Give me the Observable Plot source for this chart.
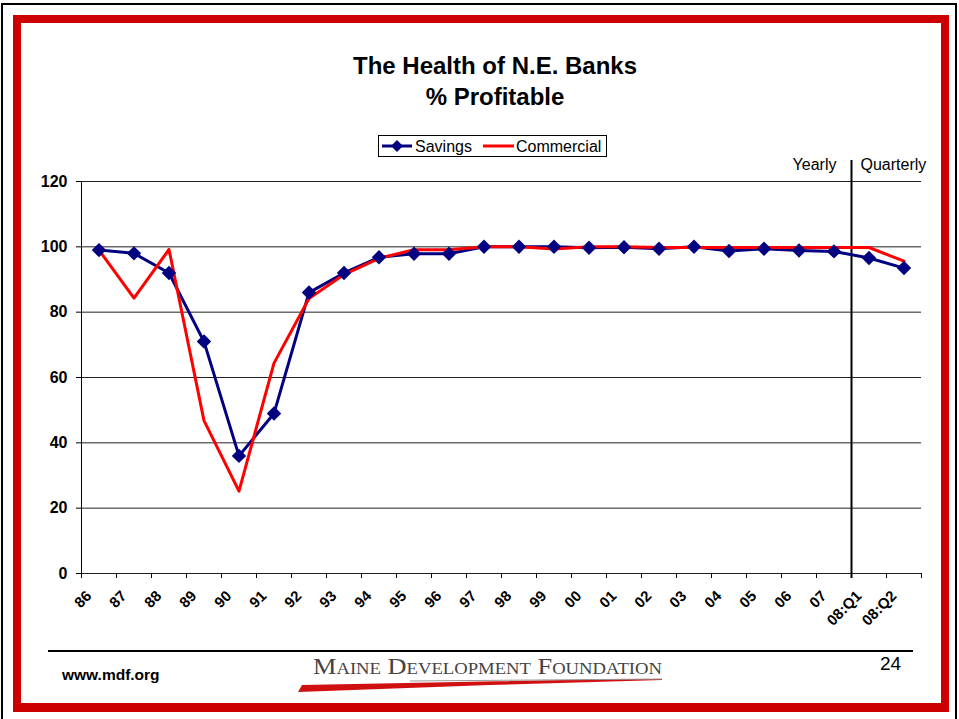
<!DOCTYPE html>
<html>
<head>
<meta charset="utf-8">
<script src="https://cdn.jsdelivr.net/npm/d3@7"></script>
<script src="https://cdn.jsdelivr.net/npm/@observablehq/plot@0.6"></script>
<style>
  html, body { margin: 0; padding: 0; background: #fff; }
  #wrap { position: relative; width: 959px; height: 719px; overflow: hidden; font-family: Arial, "Liberation Sans", sans-serif; }
  #chart { position: absolute; left: 0; top: 0; }
  .abs { position: absolute; }
</style>
</head>
<body>
<div id="wrap">
  <div id="chart"></div>
  <div class="abs" style="left:1px;top:3px;width:952px;height:730px;border:2px solid #000;"></div>
  <div class="abs" style="left:13px;top:15px;width:920px;height:680px;border:8px solid #CC0000;border-bottom-width:9px;"></div>
  <div class="abs" id="title" style="left:0;top:50px;width:990px;text-align:center;font-weight:bold;font-size:24px;line-height:31px;color:#000;">The Health of N.E. Banks<br>% Profitable</div>
  <div class="abs" id="legend" style="left:378px;top:135px;width:227px;height:20px;border:1px solid #000;background:#fff;"></div>
  <div class="abs" style="left:48px;top:650px;width:865px;height:2px;background:#000;"></div>
  <div class="abs" style="left:62px;top:666px;font-weight:bold;font-size:15.5px;">www.mdf.org</div>
  <div class="abs" style="left:880px;top:653px;font-size:19px;">24</div>
  <svg class="abs" style="left:290px;top:652px;" width="390" height="45" id="logo"></svg>
</div>
<script>
// ---- data ----
const categories = ["86","87","88","89","90","91","92","93","94","95","96","97","98","99","00","01","02","03","04","05","06","07","08:Q1","08:Q2"];
const savings    = [99, 98, 92, 71, 36, 49, 86, 92, 96.8, 97.9, 97.9, 100, 100, 100, 99.7, 99.9, 99.4, 100, 98.7, 99.4, 98.9, 98.6, 96.6, 93.5];
const commercial = [99, 84.3, 99.2, 46.8, 25.2, 64.4, 84.2, 91.5, 96.5, 99.1, 99.1, 100, 100, 99.3, 100, 100, 99.8, 99.8, 99.8, 99.8, 99.8, 99.8, 99.8, 95.6];
const yTicks = [0, 20, 40, 60, 80, 100, 120];
const seriesNames = ["Savings", "Commercial"];
const seriesColors = ["#000080", "#FF0000"];
const periodLabels = ["Yearly", "Quarterly"];

const rows = categories.map((c, i) => ({cat: c, i, pos: i + 0.5, savings: savings[i], commercial: commercial[i]}));
const boundaries = d3.range(categories.length + 1);
const splitAt = categories.indexOf("08:Q1");

const font = 'Arial, "Liberation Sans", sans-serif';
const tickExt = -1.53;   // tick length below the axis, in y units
const sepTop = 126.4;    // separator rises above the top gridline

const plot = Plot.plot({
  width: 959,
  height: 719,
  marginLeft: 81,
  marginRight: 38,
  marginTop: 181,
  marginBottom: 146,
  style: {fontFamily: font, fontSize: "16px", color: "#000", background: "transparent", overflow: "visible"},
  x: {type: "linear", domain: [0, categories.length], axis: null},
  y: {type: "linear", domain: [0, 120], axis: null},
  marks: [
    Plot.ruleY(yTicks, {stroke: "#222", strokeWidth: 1}),
    Plot.ruleX([0], {y1: tickExt, y2: 120, stroke: "#000", strokeWidth: 1}),
    Plot.axisY(yTicks, {tickSize: 5, tickPadding: 9, fontWeight: "bold", fontSize: 16, label: null, stroke: "#000"}),
    Plot.axisX(boundaries, {tickSize: 5, tickFormat: () => "", label: null, stroke: "#000"}),
    Plot.ruleX([splitAt], {y1: tickExt, y2: sepTop, stroke: "#000", strokeWidth: 2}),
    Plot.text(rows, {x: "pos", y: 0, text: "cat", rotate: -45, textAnchor: "end", dx: -10, dy: 20, fontWeight: "bold", fontSize: 15}),
    Plot.line(rows, {x: "pos", y: "savings", stroke: seriesColors[0], strokeWidth: 3}),
    Plot.line(rows, {x: "pos", y: "commercial", stroke: seriesColors[1], strokeWidth: 3}),
    Plot.dot(rows, {x: "pos", y: "savings", symbol: "diamond2", r: 6.5, fill: seriesColors[0], stroke: "none"}),
    Plot.text([periodLabels[0]], {x: splitAt, y: 120, text: d => d, textAnchor: "end", dx: -15, dy: -17, fontSize: 16, fontWeight: "normal"}),
    Plot.text([periodLabels[1]], {x: splitAt, y: 120, text: d => d, textAnchor: "start", dx: 9, dy: -17, fontSize: 16, fontWeight: "normal"})
  ]
});
document.getElementById("chart").appendChild(plot);

// ---- legend ----
const leg = d3.select("#legend").append("svg").attr("width", 227).attr("height", 20)
  .style("font-family", font).style("font-size", "16px");
leg.append("line").attr("x1", 3).attr("x2", 33).attr("y1", 10).attr("y2", 10).attr("stroke", seriesColors[0]).attr("stroke-width", 3);
leg.append("path").attr("d", d3.symbol(d3.symbolDiamond2, 90)()).attr("transform", "translate(18,10)").attr("fill", seriesColors[0]);
leg.append("text").attr("x", 36).attr("y", 16).text(seriesNames[0]);
leg.append("line").attr("x1", 104).attr("x2", 135).attr("y1", 10).attr("y2", 10).attr("stroke", seriesColors[1]).attr("stroke-width", 3);
leg.append("text").attr("x", 137).attr("y", 16).text(seriesNames[1]);

// ---- logo ----
const logo = d3.select("#logo");
logo.append("polygon").attr("points", "8,40 12,33 330,27 372,27 372,28 200,33").attr("fill", "#D01010");
logo.append("line").attr("x1", 120).attr("x2", 372).attr("y1", 29).attr("y2", 27).attr("stroke", "#999").attr("stroke-width", 1);
logo.append("text").attr("x", 23).attr("y", 22).attr("textLength", 349).attr("lengthAdjust", "spacingAndGlyphs")
  .style("font-family", '"Liberation Serif", "Times New Roman", serif').style("font-size", "24px")
  .style("font-variant", "small-caps").attr("fill", "#444").text("Maine Development Foundation");
</script>
</body>
</html>
